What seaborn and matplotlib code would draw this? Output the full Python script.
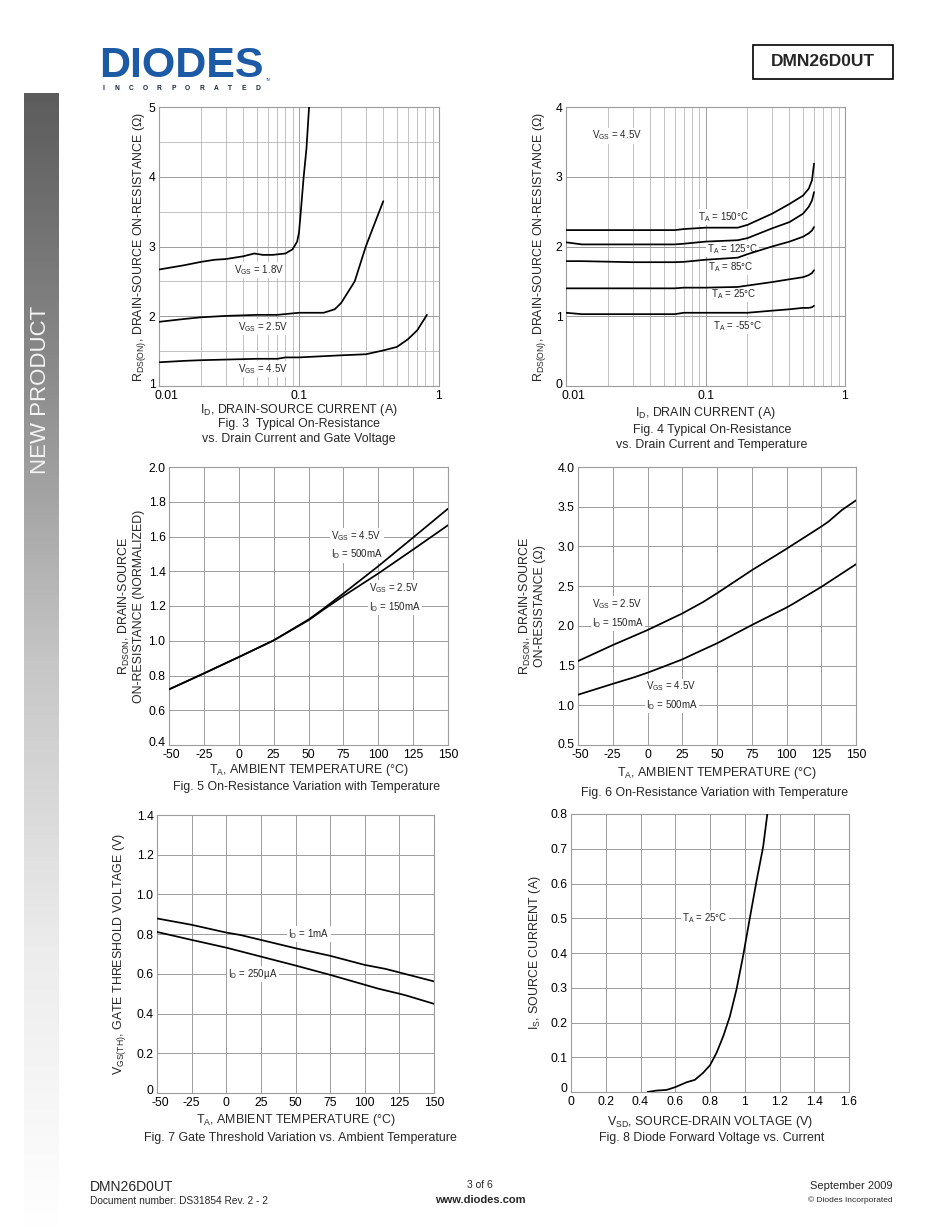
import numpy as np
import pandas as pd
import seaborn as sns
import matplotlib.pyplot as plt
from matplotlib.patches import Rectangle
from matplotlib.lines import Line2D
from matplotlib.colors import LinearSegmentedColormap
from matplotlib.ticker import LogLocator, NullFormatter, FixedLocator
from matplotlib.transforms import ScaledTranslation

# ---- data ----

# Fig. 3  RDS(on) vs ID for three gate voltages
fig3_id_18 = [0.01, 0.015, 0.02, 0.025, 0.03, 0.04, 0.048, 0.055, 0.065, 0.08, 0.09, 0.097, 0.1, 0.103, 0.108, 0.113, 0.118]
fig3_r_18 = [2.67, 2.73, 2.78, 2.81, 2.82, 2.86, 2.90, 2.88, 2.88, 2.90, 2.96, 3.07, 3.2, 3.5, 4.0, 4.4, 5.0]
fig3_id_25 = [0.01, 0.015, 0.02, 0.03, 0.05, 0.07, 0.1, 0.15, 0.18, 0.2, 0.25, 0.3, 0.35, 0.4]
fig3_r_25 = [1.92, 1.96, 1.985, 2.005, 2.02, 2.02, 2.05, 2.05, 2.10, 2.19, 2.50, 3.0, 3.35, 3.65]
fig3_id_45 = [0.01, 0.015, 0.02, 0.05, 0.07, 0.08, 0.1, 0.2, 0.3, 0.4, 0.5, 0.6, 0.7, 0.82]
fig3_r_45 = [1.34, 1.36, 1.37, 1.39, 1.39, 1.41, 1.41, 1.44, 1.455, 1.51, 1.56, 1.67, 1.80, 2.02]

# Fig. 4  RDS(on) vs ID for five temperatures (VGS = 4.5V)
fig4_id = [0.01, 0.013, 0.03, 0.06, 0.07, 0.1, 0.17, 0.2, 0.3, 0.4, 0.5, 0.55, 0.58, 0.6]
fig4_r_150 = [2.235, 2.235, 2.235, 2.235, 2.25, 2.27, 2.27, 2.31, 2.47, 2.61, 2.73, 2.83, 2.95, 3.19]
fig4_r_125 = [2.06, 2.03, 2.03, 2.03, 2.04, 2.07, 2.09, 2.12, 2.26, 2.35, 2.47, 2.57, 2.66, 2.78]
fig4_r_85 = [1.79, 1.79, 1.775, 1.775, 1.78, 1.81, 1.84, 1.89, 2.0, 2.07, 2.14, 2.19, 2.23, 2.28]
fig4_r_25 = [1.40, 1.40, 1.40, 1.40, 1.41, 1.41, 1.42, 1.44, 1.49, 1.53, 1.56, 1.59, 1.62, 1.66]
fig4_r_m55 = [1.05, 1.03, 1.03, 1.03, 1.05, 1.05, 1.05, 1.05, 1.08, 1.10, 1.12, 1.12, 1.13, 1.15]

# Fig. 5  normalized RDS(on) vs temperature
fig5_t = [-50, -25, 0, 25, 50, 60, 75, 100, 125, 150]
fig5_r_45 = [0.72, 0.812, 0.906, 1.002, 1.122, 1.18, 1.272, 1.429, 1.594, 1.76]
fig5_r_25 = [0.72, 0.812, 0.906, 1.002, 1.118, 1.175, 1.257, 1.387, 1.525, 1.665]

# Fig. 6  RDS(on) vs temperature
fig6_t_25 = [-50, -25, 0, 25, 40, 50, 75, 100, 125, 130, 140, 150]
fig6_r_25 = [1.557, 1.758, 1.947, 2.156, 2.30, 2.41, 2.70, 2.97, 3.25, 3.31, 3.46, 3.58]
fig6_t_45 = [-50, -25, -10, 0, 15, 25, 40, 50, 75, 100, 105, 125, 150]
fig6_r_45 = [1.133, 1.27, 1.35, 1.41, 1.51, 1.578, 1.70, 1.78, 2.01, 2.23, 2.28, 2.49, 2.776]

# Fig. 7  gate threshold vs temperature
fig7_t_1ma = [-50, -25, 0, 10, 25, 50, 75, 100, 115, 125, 150]
fig7_v_1ma = [0.879, 0.847, 0.808, 0.796, 0.771, 0.729, 0.691, 0.645, 0.625, 0.607, 0.562]
fig7_t_250 = [-50, -25, 0, 25, 50, 75, 100, 110, 125, 130, 150]
fig7_v_250 = [0.811, 0.771, 0.732, 0.687, 0.642, 0.595, 0.545, 0.525, 0.500, 0.491, 0.449]

# Fig. 8  diode forward voltage vs current
fig8_vsd = [0.44, 0.49, 0.55, 0.60, 0.665, 0.713, 0.76, 0.80, 0.837, 0.876, 0.914, 0.952, 0.99, 1.029, 1.067, 1.106, 1.13]
fig8_is = [0.0, 0.004, 0.006, 0.014, 0.028, 0.035, 0.055, 0.077, 0.112, 0.160, 0.217, 0.294, 0.39, 0.50, 0.605, 0.706, 0.80]

temp_ticks = [-50, -25, 0, 25, 50, 75, 100, 125, 150]

# ---- page setup ----
W, H = 950, 1230
sns.set_theme(style="white")
plt.rcParams['font.family'] = ['Liberation Sans', 'DejaVu Sans']
plt.rcParams['mathtext.default'] = 'regular'

fig = plt.figure(figsize=(W / 100, H / 100), dpi=100)
fig.patch.set_facecolor('white')

TICK_FS = 8.8
LAB_FS = 8.9
NOTE_FS = 7.0
GRID_C = '#9c9c9c'
GRID_MINOR = '#b8b8b8'


def fx(x):
    return x / W


def fy(y):
    return 1 - y / H


def rect(l, t, r, b):
    return [l / W, 1 - b / H, (r - l) / W, (b - t) / H]


def nudge(label, dx_px, dy_px):
    # shift a tick label by a few pixels (corner labels in the datasheet sit apart)
    label.set_transform(label.get_transform() +
                        ScaledTranslation(dx_px / 100, dy_px / 100, fig.dpi_scale_trans))


def note(ax, x, y, s, ha='center'):
    ax.text(x, y, s, fontsize=NOTE_FS, ha=ha, va='center', linespacing=1.5,
            bbox=dict(facecolor='white', edgecolor='none', pad=0.8), zorder=2)


def base_axes(box, xlabel, ylabel, xlab_y, ylab_x, caption, cap_x, cap_ys):
    ax = fig.add_axes(rect(*box))
    l, t, r, b = box
    for sp in ax.spines.values():
        sp.set_color(GRID_C)
        sp.set_linewidth(0.8)
    ax.tick_params(which='both', length=0, labelsize=TICK_FS, pad=3, colors='black')
    ax.tick_params(axis='y', pad=2.5)
    ax.set_xlabel(xlabel, fontsize=LAB_FS, va='center')
    ax.xaxis.set_label_coords(0.5, (b - xlab_y) / (b - t))
    ax.set_ylabel(ylabel, fontsize=LAB_FS, va='center', ha='center', linespacing=1.1)
    ax.yaxis.set_label_coords((ylab_x - l) / (r - l), 0.5)
    for line, cy in zip(caption, cap_ys):
        fig.text(fx(cap_x), fy(cy), line, fontsize=LAB_FS, ha='center', va='center')
    ax.set_axisbelow(True)
    return ax


def draw(ax, df):
    xl, yl = ax.get_xlabel(), ax.get_ylabel()
    sns.lineplot(data=df, x='x', y='y', hue='curve', palette=['black'] * df['curve'].nunique(),
                 estimator=None, sort=False, legend=False, linewidth=1.25, ax=ax, zorder=3)
    ax.set_xlabel(xl)
    ax.set_ylabel(yl)


def frame(pairs):
    return pd.concat([pd.DataFrame({'x': xs, 'y': ys, 'curve': name}) for name, xs, ys in pairs],
                     ignore_index=True)


def corner(ax, dx_first_x, dy_first_y):
    nudge(ax.get_xticklabels()[0], dx_first_x, 0)
    nudge(ax.get_yticklabels()[0], 0, dy_first_y)


# ---------- Fig. 3 ----------
ax3 = base_axes((159, 107, 439, 386), "I$_{D}$, DRAIN-SOURCE CURRENT (A)",
                "R$_{DS(ON)}$, DRAIN-SOURCE ON-RESISTANCE (\u03a9)", 410, 140,
                ["Fig. 3  Typical On-Resistance", "vs. Drain Current and Gate Voltage"], 299, [424, 439])
draw(ax3, frame([('1.8', fig3_id_18, fig3_r_18), ('2.5', fig3_id_25, fig3_r_25), ('4.5', fig3_id_45, fig3_r_45)]))
ax3.set_xscale('log')
ax3.set_xlim(0.01, 1)
ax3.set_ylim(1, 5)
ax3.set_xticks([0.01, 0.1, 1])
ax3.set_xticklabels(['0.01', '0.1', '1'])
ax3.xaxis.set_minor_locator(LogLocator(base=10, subs=np.arange(2, 10)))
ax3.xaxis.set_minor_formatter(NullFormatter())
ax3.set_yticks([1, 2, 3, 4, 5])
ax3.set_yticklabels(['1', '2', '3', '4', '5'])
ax3.yaxis.set_minor_locator(FixedLocator([1.5, 2.5, 3.5, 4.5]))
ax3.grid(True, which='major', color=GRID_C, lw=0.7)
ax3.grid(True, which='minor', color=GRID_MINOR, lw=0.6)
ax3.tick_params(which='minor', length=0)
note(ax3, 0.052, 2.66, "V$_{GS}$ = 1.8V")
note(ax3, 0.0553, 1.85, "V$_{GS}$ = 2.5V")
note(ax3, 0.0553, 1.24, "V$_{GS}$ = 4.5V")
corner(ax3, 7, 3)

# ---------- Fig. 4 ----------
ax4 = base_axes((566, 107, 845, 386), "I$_{D}$, DRAIN CURRENT (A)",
                "R$_{DS(ON)}$, DRAIN-SOURCE ON-RESISTANCE (\u03a9)", 413, 540,
                ["Fig. 4 Typical On-Resistance", "vs. Drain Current and Temperature"], 712, [430, 445])
draw(ax4, frame([('150', fig4_id, fig4_r_150), ('125', fig4_id, fig4_r_125), ('85', fig4_id, fig4_r_85),
                 ('25', fig4_id, fig4_r_25), ('-55', fig4_id, fig4_r_m55)]))
ax4.set_xscale('log')
ax4.set_xlim(0.01, 1)
ax4.set_ylim(0, 4)
ax4.set_xticks([0.01, 0.1, 1])
ax4.set_xticklabels(['0.01', '0.1', '1'])
ax4.xaxis.set_minor_locator(LogLocator(base=10, subs=np.arange(2, 10)))
ax4.xaxis.set_minor_formatter(NullFormatter())
ax4.set_yticks([0, 1, 2, 3, 4])
ax4.set_yticklabels(['0', '1', '2', '3', '4'])
ax4.grid(True, which='major', color=GRID_C, lw=0.7)
ax4.grid(True, which='minor', axis='x', color=GRID_MINOR, lw=0.6)
ax4.tick_params(which='minor', length=0)
note(ax4, 0.0153, 3.59, "V$_{GS}$ = 4.5V", ha='left')
note(ax4, 0.134, 2.42, "T$_{A}$ = 150°C")
note(ax4, 0.156, 1.96, "T$_{A}$ = 125°C")
note(ax4, 0.152, 1.70, "T$_{A}$ = 85°C")
note(ax4, 0.159, 1.32, "T$_{A}$ = 25°C")
note(ax4, 0.168, 0.86, "T$_{A}$ = -55°C")
corner(ax4, 7, 3)

# ---------- Fig. 5 ----------
ax5 = base_axes((169, 467, 448, 745), "T$_{A}$, AMBIENT TEMPERATURE (°C)",
                "R$_{DSON}$, DRAIN-SOURCE\nON-RESISTANCE (NORMALIZED)", 770, 131,
                ["Fig. 5 On-Resistance Variation with Temperature"], 307, [787])
draw(ax5, frame([('4.5', fig5_t, fig5_r_45), ('2.5', fig5_t, fig5_r_25)]))
ax5.set_xlim(-50, 150)
ax5.set_ylim(0.4, 2.0)
ax5.set_xticks(temp_ticks)
ax5.set_xticklabels([str(t) for t in temp_ticks])
y5 = [0.4, 0.6, 0.8, 1.0, 1.2, 1.4, 1.6, 1.8, 2.0]
ax5.set_yticks(y5)
ax5.set_yticklabels([f"{v:.1f}" for v in y5])
ax5.grid(True, color=GRID_C, lw=0.7)
note(ax5, 66.4, 1.55, "V$_{GS}$ = 4.5V\nI$_{D}$ = 500mA", ha='left')
note(ax5, 93.4, 1.249, "V$_{GS}$ = 2.5V\nI$_{D}$ = 150mA", ha='left')
corner(ax5, 2, 3)

# ---------- Fig. 6 ----------
ax6 = base_axes((578, 467, 856, 745), "T$_{A}$, AMBIENT TEMPERATURE (°C)",
                "R$_{DSON}$, DRAIN-SOURCE\nON-RESISTANCE (\u03a9)", 773, 532,
                ["Fig. 6 On-Resistance Variation with Temperature"], 715, [793])
draw(ax6, frame([('2.5', fig6_t_25, fig6_r_25), ('4.5', fig6_t_45, fig6_r_45)]))
ax6.set_xlim(-50, 150)
ax6.set_ylim(0.5, 4.0)
ax6.set_xticks(temp_ticks)
ax6.set_xticklabels([str(t) for t in temp_ticks])
y6 = [0.5, 1.0, 1.5, 2.0, 2.5, 3.0, 3.5, 4.0]
ax6.set_yticks(y6)
ax6.set_yticklabels([f"{v:.1f}" for v in y6])
ax6.grid(True, color=GRID_C, lw=0.7)
note(ax6, -40, 2.156, "V$_{GS}$ = 2.5V\nI$_{D}$ = 150mA", ha='left')
note(ax6, -0.9, 1.117, "V$_{GS}$ = 4.5V\nI$_{D}$ = 500mA", ha='left')
corner(ax6, 2, 2)

# ---------- Fig. 7 ----------
ax7 = base_axes((157, 815, 434, 1093), "T$_{A}$, AMBIENT TEMPERATURE (°C)",
                "V$_{GS(TH)}$, GATE THRESHOLD VOLTAGE (V)", 1120, 120,
                ["Fig. 7 Gate Threshold Variation vs. Ambient Temperature"], 300, [1138])
draw(ax7, frame([('1mA', fig7_t_1ma, fig7_v_1ma), ('250uA', fig7_t_250, fig7_v_250)]))
ax7.set_xlim(-50, 150)
ax7.set_ylim(0, 1.4)
ax7.set_xticks(temp_ticks)
ax7.set_xticklabels([str(t) for t in temp_ticks])
y7 = [0, 0.2, 0.4, 0.6, 0.8, 1.0, 1.2, 1.4]
ax7.set_yticks(y7)
ax7.set_yticklabels(['0'] + [f"{v:.1f}" for v in y7[1:]])
ax7.grid(True, color=GRID_C, lw=0.7)
note(ax7, 59.7, 0.801, "I$_{D}$ = 1mA")
note(ax7, 19.1, 0.60, "I$_{D}$ = 250µA")
corner(ax7, 3, 4)

# ---------- Fig. 8 ----------
ax8 = base_axes((571, 814, 849, 1092), "V$_{SD}$, SOURCE-DRAIN VOLTAGE (V)",
                "I$_{S}$, SOURCE CURRENT (A)", 1122, 535,
                ["Fig. 8 Diode Forward Voltage vs. Current"], 712, [1138])
draw(ax8, frame([('25C', fig8_vsd, fig8_is)]))
ax8.set_xlim(0, 1.6)
ax8.set_ylim(0, 0.8)
x8 = [0, 0.2, 0.4, 0.6, 0.8, 1.0, 1.2, 1.4, 1.6]
ax8.set_xticks(x8)
ax8.set_xticklabels(['0', '0.2', '0.4', '0.6', '0.8', '1', '1.2', '1.4', '1.6'])
y8 = [0, 0.1, 0.2, 0.3, 0.4, 0.5, 0.6, 0.7, 0.8]
ax8.set_yticks(y8)
ax8.set_yticklabels(['0'] + [f"{v:.1f}" for v in y8[1:]])
ax8.grid(True, color=GRID_C, lw=0.7)
note(ax8, 0.77, 0.50, "T$_{A}$ = 25°C")
corner(ax8, 0, 4)

# ---------- page decoration ----------
# left gradient band
side = fig.add_axes(rect(24, 93, 59, 1230))
side_cmap = LinearSegmentedColormap.from_list(
    'side', [(0, '#5c5c5c'), (0.25, '#8c8c8c'), (0.5, '#c6c6c6'), (0.75, '#ececec'), (1, '#ffffff')])
side.imshow(np.linspace(0, 1, 256).reshape(-1, 1), aspect='auto', cmap=side_cmap, extent=(0, 1, 1, 0))
side.axis('off')
fig.text(fx(41), fy(390), "NEW PRODUCT", rotation=90, fontsize=16, color='#f4f4f4',
         ha='center', va='center')

# logo
fig.text(fx(99), fy(66), "DIODES", fontsize=31, fontweight='heavy', color='#1d5aa5',
         ha='left', va='center')
fig.add_artist(Line2D([fx(100), fx(263)], [fy(65.5), fy(65.5)], color='white', lw=1.1,
                      transform=fig.transFigure))
for i, ch in enumerate("INCORPORATED"):
    fig.text(fx(103 + i * 14.1), fy(88), ch, fontsize=4.8, fontweight='bold', color='#1a2440',
             ha='center', va='center')
fig.text(fx(266), fy(80), "TM", fontsize=2.5, color='#1d5aa5', ha='left', va='center')

# part number box
fig.add_artist(Rectangle((fx(753), fy(79)), (893 - 753) / W, (79 - 45) / H, fill=False,
                         edgecolor='black', linewidth=1.2, transform=fig.transFigure))
fig.text(fx(823), fy(62), "DMN26D0UT", fontsize=12.5, fontweight='bold', ha='center', va='center')

# footer
fig.text(fx(90), fy(1187), "DMN26D0UT", fontsize=10, ha='left', va='center')
fig.text(fx(90), fy(1201), "Document number: DS31854 Rev. 2 - 2", fontsize=7.3, ha='left', va='center')
fig.text(fx(480), fy(1185), "3 of 6", fontsize=7.5, ha='center', va='center')
fig.text(fx(480), fy(1200), "www.diodes.com", fontsize=8, fontweight='bold', ha='center', va='center')
fig.text(fx(893), fy(1186), "September 2009", fontsize=8, ha='right', va='center')
fig.text(fx(893), fy(1200), "© Diodes Incorporated", fontsize=6, ha='right', va='center')

fig.savefig("out.png", dpi=100, facecolor='white')
